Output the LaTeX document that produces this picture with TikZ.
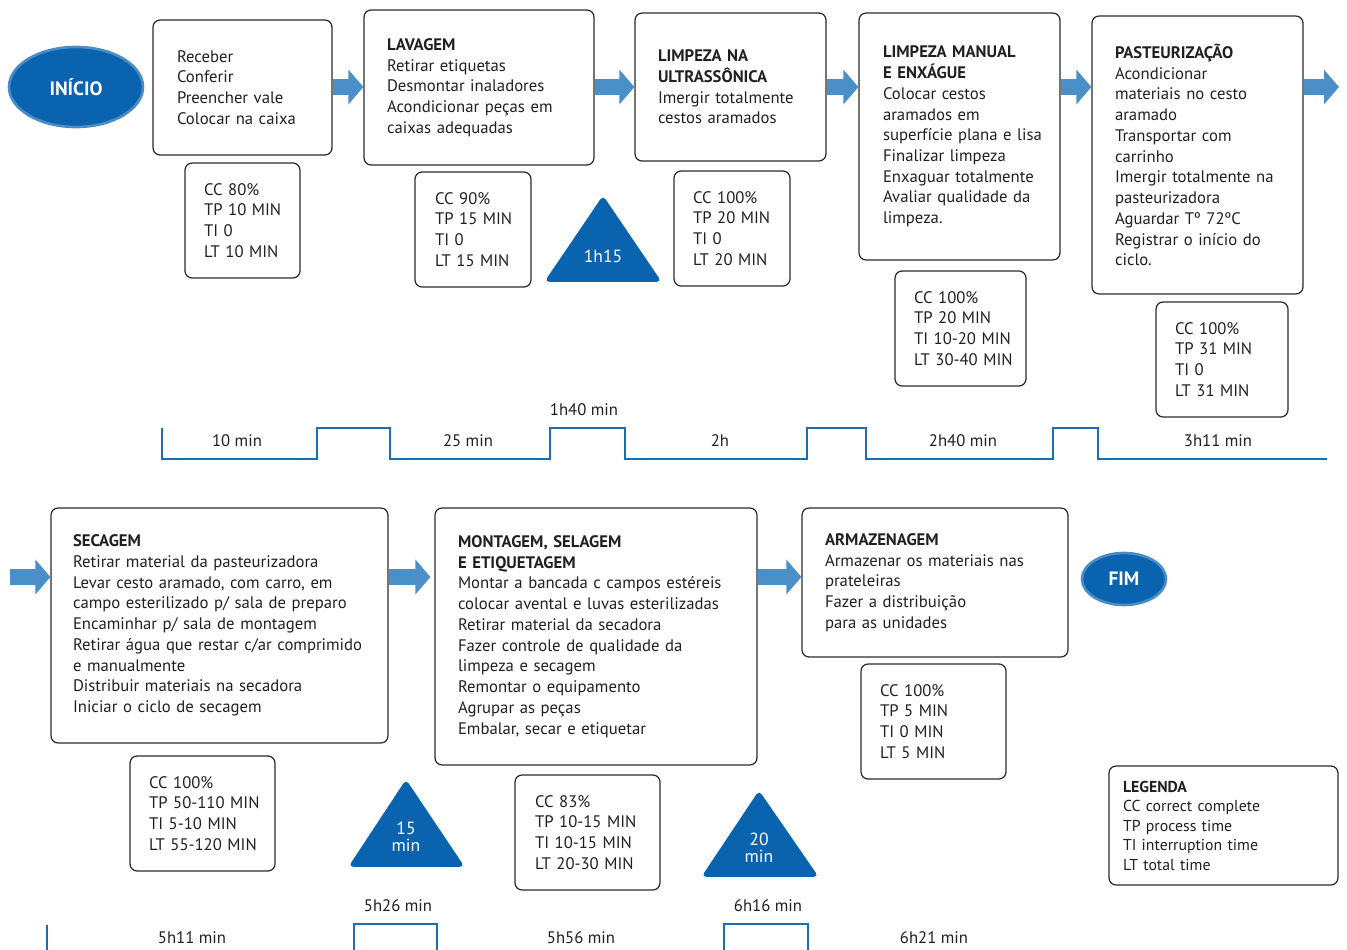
\documentclass[tikz,border=0pt]{standalone}
\usepackage{fontspec}
\setmainfont{PT Sans}
\usetikzlibrary{shapes.geometric, arrows.meta}
\definecolor{boxline}{HTML}{2B2B2B}
\definecolor{inktext}{HTML}{231F20}
\definecolor{flowblue}{HTML}{4A8FC7}
\definecolor{deepblue}{HTML}{0A63AE}
\definecolor{rimblue}{HTML}{4A8CC8}
\definecolor{lineblue}{HTML}{1B6FAE}
\tikzstyle{stage} = [draw=boxline, line width=0.7pt, rounded corners=4pt, align=left, inner sep=0pt, text=inktext,
  font=\fontsize{9.5}{11.8}\selectfont, execute at begin node={\leftskip=0.46cm}]
\tikzstyle{stat} = [stage, minimum height=2.30cm, execute at begin node={\leftskip=0.38cm}]
\tikzstyle{terminal} = [ellipse, fill=deepblue, draw=rimblue, line width=1.5pt, text=white, inner sep=0pt, font=\bfseries\fontsize{11}{13}\selectfont]
\tikzstyle{flow} = [draw=flowblue, line width=0.32cm, -{Triangle[width=0.68cm,length=0.3cm]}]
\tikzstyle{delay} = [fill=deepblue, draw=deepblue, line width=1pt, rounded corners=2pt]
\tikzstyle{delaytext} = [text=white, align=center, inner sep=0pt, font=\fontsize{10}{9.7}\selectfont]
\tikzstyle{track} = [draw=lineblue, line width=1.4pt]
\tikzstyle{tick} = [text=inktext, inner sep=0pt, font=\fontsize{9.5}{11}\selectfont]

\begin{document}
\begin{tikzpicture}[x=0.02cm, y=-0.02cm]
\useasboundingbox (0,0) rectangle (1347,950);

% first row
\node (start) [terminal, minimum width=2.68cm, minimum height=1.6cm] at (76,87) {INÍCIO};
\node (b1) [stage, text width=3.58cm, minimum height=2.70cm, execute at begin node={\leftskip=0.48cm}] at (242.5,87.5)
  {Receber\\Conferir\\Preencher vale\\Colocar na caixa};
\node (b2) [stage, text width=4.60cm, minimum height=3.10cm] at (479,87.5)
  {\textbf{LAVAGEM}\\Retirar etiquetas\\Desmontar inaladores\\Acondicionar peças em\\caixas adequadas};
\node (b3) [stage, text width=3.82cm, minimum height=2.96cm] at (730.5,87)
  {\textbf{LIMPEZA NA}\\\textbf{ULTRASSÔNICA}\\Imergir totalmente\\cestos aramados};
\node (b4) [stage, text width=4.02cm, minimum height=4.94cm, execute at begin node={\leftskip=0.48cm}] at (959.5,136.5)
  {\textbf{LIMPEZA MANUAL}\\\textbf{E ENXÁGUE}\\Colocar cestos\\aramados em\\superfície plana e lisa\\Finalizar limpeza\\Enxaguar totalmente\\Avaliar qualidade da\\limpeza.};
\node (b5) [stage, text width=4.22cm, minimum height=5.56cm] at (1197.5,155)
  {\textbf{PASTEURIZAÇÃO}\\Acondicionar\\materiais no cesto\\aramado\\Transportar com\\carrinho\\Imergir totalmente na\\pasteurizadora\\Aguardar Tº 72ºC\\Registrar o início do\\ciclo.};

\node (s1) [stat, text width=2.30cm] at (242.5,220.5) {CC 80\%\\TP 10 MIN\\TI 0\\LT 10 MIN};
\node (s2) [stat, text width=2.32cm, execute at begin node={\leftskip=0.40cm}] at (473,229.5) {CC 90\%\\TP 15 MIN\\TI 0\\LT 15 MIN};
\node (s3) [stat, text width=2.32cm] at (732,228.5) {CC 100\%\\TP 20 MIN\\TI 0\\LT 20 MIN};
\node (s4) [stat, text width=2.62cm] at (960.5,328.5) {CC 100\%\\TP 20 MIN\\TI 10-20 MIN\\LT 30-40 MIN};
\node (s5) [stat, text width=2.64cm] at (1222,359.5) {CC 100\%\\TP 31 MIN\\TI 0\\LT 31 MIN};

\coordinate (row1) at (0,87);
\coordinate (out1) at (1339,87);
\draw [flow] (b1.east |- row1) -- (b2.west |- row1);
\draw [flow] (b2.east |- row1) -- (b3.west |- row1);
\draw [flow] (b3.east |- row1) -- (b4.west |- row1);
\draw [flow] (b4.east |- row1) -- (b5.west |- row1);
\draw [flow] (b5.east |- row1) -- (out1);

\filldraw [delay] (603,197) -- (660,281) -- (546,281) -- cycle;
\node (d1) [delaytext] at (603,256) {1h15};

% first time line
\draw [track] (162,428) -- (162,459) -- (317,459) -- (317,428) -- (390,428) -- (390,459) -- (550,459) -- (550,428)
  -- (625,428) -- (625,459) -- (807,459) -- (807,428) -- (866,428) -- (866,459) -- (1053,459) -- (1053,428)
  -- (1098,428) -- (1098,459) -- (1327,459);
\node (t1) [tick] at (237,441) {10 min};
\node (t2) [tick] at (468,441) {25 min};
\node (t3) [tick] at (584,410) {1h40 min};
\node (t4) [tick] at (720,441) {2h};
\node (t5) [tick] at (963,441) {2h40 min};
\node (t6) [tick] at (1218,441) {3h11 min};

% second row
\node (b6) [stage, text width=6.74cm, minimum height=4.70cm, execute at begin node={\leftskip=0.44cm}] at (219.5,625.5)
  {\textbf{SECAGEM}\\Retirar material da pasteurizadora\\Levar cesto aramado, com carro, em\\campo esterilizado p/ sala de preparo\\Encaminhar p/ sala de montagem\\Retirar água que restar c/ar comprimido\\e manualmente\\Distribuir materiais na secadora\\Iniciar o ciclo de secagem};
\node (b7) [stage, text width=6.44cm, minimum height=5.14cm] at (596,636.5)
  {\textbf{MONTAGEM, SELAGEM}\\\textbf{E ETIQUETAGEM}\\Montar a bancada c campos estéreis\\colocar avental e luvas esterilizadas\\Retirar material da secadora\\Fazer controle de qualidade da\\limpeza e secagem\\Remontar o equipamento\\Agrupar as peças\\Embalar, secar e etiquetar};
\node (b8) [stage, text width=5.32cm, minimum height=2.98cm] at (935,582.5)
  {\textbf{ARMAZENAGEM}\\Armazenar os materiais nas\\prateleiras\\Fazer a distribuição\\para as unidades};
\node (end) [terminal, minimum width=1.68cm, minimum height=1.04cm] at (1124,579) {FIM};

\node (s6) [stat, text width=2.90cm] at (202.5,813.5) {CC 100\%\\TP 50-110 MIN\\TI 5-10 MIN\\LT 55-120 MIN};
\node (s7) [stat, text width=2.90cm, execute at begin node={\leftskip=0.40cm}] at (587.5,832.5) {CC 83\%\\TP 10-15 MIN\\TI 10-15 MIN\\LT 20-30 MIN};
\node (s8) [stat, text width=2.90cm] at (933.5,721.5) {CC 100\%\\TP 5 MIN\\TI 0 MIN\\LT 5 MIN};
\node (key) [stage, text width=4.58cm, minimum height=2.38cm, font=\fontsize{9}{11.1}\selectfont,
  execute at begin node={\leftskip=0.28cm}] at (1223.5,825.5)
  {\textbf{LEGENDA}\\CC correct complete\\TP process time\\TI interruption time\\LT total time};

\coordinate (row2) at (0,577);
\coordinate (in2) at (10,577);
\draw [flow] (in2) -- (b6.west |- row2);
\draw [flow, shorten >=0.08cm] (b6.east |- row2) -- (b7.west |- row2);
\draw [flow] (b7.east |- row2) -- (b8.west |- row2);

\filldraw [delay] (406,781) -- (463,866) -- (350,866) -- cycle;
\node (d2) [delaytext] at (406,836.5) {15\\min};
\filldraw [delay] (759,792) -- (817,876) -- (703,876) -- cycle;
\node (d3) [delaytext] at (759,847.5) {20\\min};

% second time line
\draw [track] (47,925) -- (47,950);
\draw [track] (354,950) -- (354,924) -- (437,924) -- (437,950);
\draw [track] (724,950) -- (724,924) -- (808,924) -- (808,950);
\node (t7) [tick] at (192,938) {5h11 min};
\node (t8) [tick] at (398,906) {5h26 min};
\node (t9) [tick] at (581,938) {5h56 min};
\node (t10) [tick] at (768,906) {6h16 min};
\node (t11) [tick] at (934,938) {6h21 min};
\end{tikzpicture}
\end{document}
